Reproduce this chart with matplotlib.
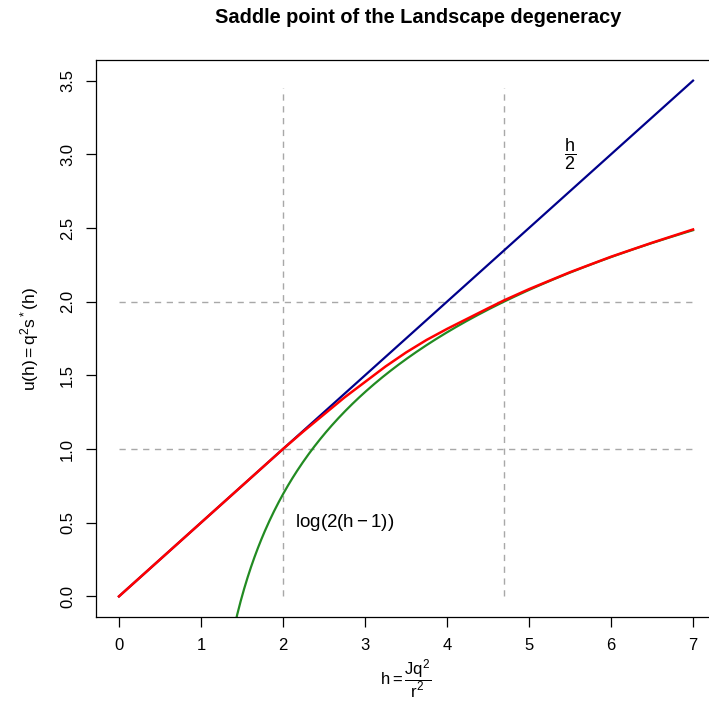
import numpy as np
import matplotlib.pyplot as plt

plt.rcParams["font.family"] = ["Liberation Sans", "DejaVu Sans"]
plt.rcParams["mathtext.fontset"] = "custom"
plt.rcParams["mathtext.rm"] = "Liberation Sans"
plt.rcParams["mathtext.it"] = "Liberation Sans"
plt.rcParams["mathtext.default"] = "regular"

# saddle point u(h)
h_saddle = [0.0, 0.5, 1.0, 1.5, 2.0, 2.25, 2.5, 2.75, 3.0, 3.25, 3.5, 3.75,
            4.0, 4.25, 4.5, 4.7, 5.0, 5.5, 6.0, 6.5, 7.0]
u_saddle = [0.0, 0.25, 0.5, 0.75, 1.0, 1.12, 1.235, 1.35, 1.455, 1.56, 1.655, 1.74,
            1.815, 1.885, 1.955, 2.01, 2.085, 2.2, 2.305, 2.4, 2.49]

h_max = 7.0
h_ref = [2.0, 4.7]      # vertical guides
u_ref = [1.0, 2.0]      # horizontal guides
guide_top = 3.45

h_line = np.linspace(0, h_max, 400)
h_log = np.linspace(1.4, h_max, 400)

fig = plt.figure(figsize=(7.09, 7.05), dpi=100)
ax = fig.add_axes([96 / 709, 88 / 705, 620 / 709, 557 / 705])

grey = "#a8a8a8"
for hv in h_ref:
    ax.plot([hv, hv], [0, guide_top], color=grey, lw=1, ls=(0, (4.5, 4)))
for uv in u_ref:
    ax.plot([0, h_max], [uv, uv], color=grey, lw=1, ls=(0, (4.5, 4)))

ax.plot(h_line, h_line / 2, color="#00008b", lw=1.6)
ax.plot(h_log, np.log(2 * (h_log - 1)), color="#228b22", lw=1.6)
ax.plot(h_saddle, u_saddle, color="red", lw=1.8)

ax.text(5.5, 3.0, r"$\dfrac{h}{2}$", fontsize=13, ha="center", va="center")
ax.text(2.75, 0.5, r"$\log(2(h-1))$", fontsize=13.5, ha="center", va="center")

ax.set_xlim(-0.28, 7.28)
ax.set_ylim(-0.14, 3.64)
ax.set_xticks(range(8))
ax.set_yticks(np.arange(0, 3.51, 0.5))
ax.set_yticklabels([f"{v:.1f}" for v in np.arange(0, 3.51, 0.5)],
                   rotation=90, va="center")
ax.tick_params(labelsize=12, length=7, width=0.9, pad=8)
for s in ax.spines.values():
    s.set_linewidth(0.9)

ax.set_xlabel(r"$h = \dfrac{Jq^2}{r^2}$", fontsize=12, labelpad=3)
ax.set_ylabel(r"$u(h) = q^2 s^*(h)$", fontsize=12.5, labelpad=14)
fig.suptitle("Saddle point of the Landscape degeneracy", fontsize=14.4,
             fontweight="bold", x=418 / 709, y=0.988)

fig.savefig("out.png", dpi=100)
